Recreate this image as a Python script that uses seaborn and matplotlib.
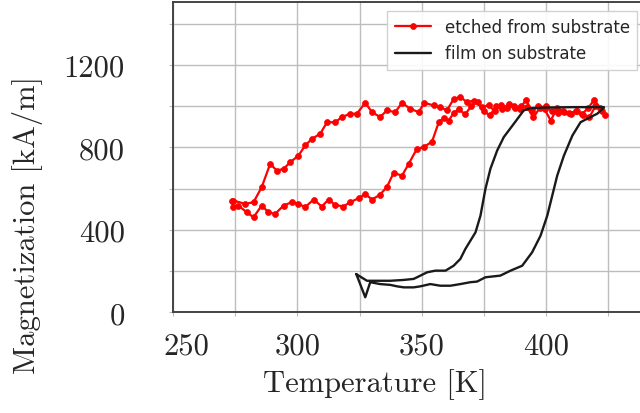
import numpy as np
import pandas as pd
import matplotlib
matplotlib.use('Agg')
import matplotlib.pyplot as plt
from matplotlib.transforms import ScaledTranslation
import seaborn as sns

# red loop: etched film, heating branch then cooling branch
red_temp_heat = [273.8, 274.2, 276.2, 279.6, 282.3, 285.6, 288.3, 291.0, 294.4, 297.7,
                 300.4, 303.1, 306.5, 309.8, 312.5, 315.2, 318.5, 321.2, 324.6, 327.3,
                 330.0, 333.1, 336.0, 338.7, 342.1, 344.8, 348.1, 350.8, 354.2, 356.9,
                 358.9, 360.9, 362.9, 365.0, 367.5, 370.0, 372.5, 375.0, 377.5, 380.0,
                 382.5, 385.0, 387.5, 390.0, 392.5, 395.0, 397.5, 400.0, 402.5, 405.0,
                 407.5, 410.0, 412.5, 415.0, 417.5, 420.0, 422.5, 424.0]
red_mag_heat = [540, 510, 518, 485, 461, 518, 485, 477, 518, 534,
                526, 510, 547, 513, 547, 521, 513, 534, 553, 574,
                547, 569, 607, 676, 663, 720, 793, 801, 828, 922,
                942, 930, 967, 985, 960, 1000, 1020, 975, 955, 1000,
                985, 1010, 990, 1000, 995, 945, 990, 1000, 975, 965,
                970, 960, 975, 955, 945, 1000, 975, 955]
red_temp_cool = [422.0, 419.5, 417.0, 414.5, 412.0, 409.5, 407.0, 404.5, 402.0, 399.5,
                 397.0, 394.5, 392.0, 389.5, 387.0, 384.5, 382.0, 379.5, 377.0, 374.5,
                 371.0, 368.3, 365.6, 362.9, 360.2, 357.5, 354.9, 351.1, 348.8, 345.4,
                 342.1, 339.4, 336.0, 333.3, 330.0, 327.3, 323.9, 321.2, 317.9, 315.2,
                 311.9, 309.2, 305.8, 303.1, 300.4, 297.1, 294.4, 291.7, 289.0, 285.6,
                 282.3, 278.9, 274.2]
red_mag_cool = [990, 1030, 990, 960, 975, 965, 975, 990, 930, 985,
                1000, 975, 1030, 985, 1000, 990, 1005, 975, 1005, 995,
                1027, 1019, 1044, 1035, 979, 995, 1003, 1016, 971, 987,
                1016, 971, 979, 947, 971, 1016, 963, 963, 947, 922,
                922, 866, 841, 809, 760, 728, 696, 687, 720, 607,
                534, 526, 542]

# black loop: film on substrate
black_temp_heat = [323.7, 327.3, 329.3, 333.3, 337.4, 340.1, 342.8, 346.8, 349.5, 353.5,
                   357.5, 361.6, 365.6, 369.6, 372.3, 375.7, 381.7, 385.8, 390.5, 394.5,
                   397.9, 400.6, 402.6, 404.6, 407.3, 410.7, 414.0, 418.0, 420.7, 423.4]
black_mag_heat = [185, 73, 146, 137, 133, 126, 121, 121, 126, 137,
                  129, 129, 137, 146, 149, 170, 178, 202, 226, 291,
                  372, 469, 566, 663, 760, 857, 922, 947, 963, 992]
black_temp_cool = [423.4, 411.4, 400.0, 393.8, 391.1, 387.1, 383.1, 380.4, 377.7, 375.7,
                   373.7, 371.7, 367.6, 365.6, 362.9, 359.6, 355.5, 352.2, 349.5, 346.8,
                   342.8, 337.4, 332.0, 328.0, 323.7]
black_mag_cool = [995, 995, 993, 990, 979, 914, 850, 784, 696, 599,
                  469, 388, 307, 259, 226, 202, 202, 194, 178, 162,
                  157, 153, 153, 153, 185]

x_ticks = [250, 275, 300, 325, 350, 375, 400, 425]
x_labels = ['250', '', '300', '', '350', '', '400', '']
y_ticks = [0, 200, 400, 600, 800, 1000, 1200, 1400]
y_labels = ['0', '', '400', '', '800', '', '1200', '']

red = pd.DataFrame({'T': red_temp_heat + red_temp_cool, 'M': red_mag_heat + red_mag_cool})
black = pd.DataFrame({'T': black_temp_heat + black_temp_cool, 'M': black_mag_heat + black_mag_cool})

sns.set_theme(style='whitegrid')
plt.rcParams['font.family'] = ['cmr10', 'DejaVu Serif']
plt.rcParams['axes.formatter.use_mathtext'] = True

fig = plt.figure(figsize=(6.4, 4.14), dpi=100)
ax = fig.add_axes([0.2708, 0.2432, 0.75, 0.7496])

sns.lineplot(data=red, x='T', y='M', sort=False, estimator=None, color='#ff0000',
             marker='o', markersize=4.3, markeredgecolor='#ff0000', markeredgewidth=0.5,
             linewidth=1.6, label='etched from substrate', ax=ax)
sns.lineplot(data=black, x='T', y='M', sort=False, estimator=None, color='#1a1a1a',
             linewidth=1.7, label='film on substrate', ax=ax)

ax.set_xlim(250, 443.3)
ax.set_ylim(0, 1505)
ax.set_xticks(x_ticks)
ax.set_xticklabels(x_labels)
ax.set_yticks(y_ticks)
ax.set_yticklabels(y_labels)
ax.tick_params(axis='both', labelsize=22, length=3, width=0.8, color='#bbbbbb', bottom=True, left=True)
ax.tick_params(axis='x', pad=11)
ax.tick_params(axis='y', pad=32)
ax.grid(True, color='#bdbdbd', linewidth=1.0)
ax.set_axisbelow(True)
for s in ax.spines.values():
    s.set_color('#444444')
    s.set_linewidth(1.4)

# the first x label sits a little right of its tick in the original
first = ax.get_xticklabels()[0]
first.set_transform(first.get_transform() + ScaledTranslation(0.13, 0, fig.dpi_scale_trans))

ax.set_xlabel('Temperature [K]', fontsize=22)
ax.set_ylabel('Magnetization [kA/m]', fontsize=22)
ax.xaxis.label.set_va('center')
ax.yaxis.label.set_va('center')
ax.xaxis.set_label_coords(0.42, -0.228)
ax.yaxis.set_label_coords(-0.303, 0.285)

leg = ax.legend(loc='upper right', bbox_to_anchor=(0.996, 0.972), bbox_transform=fig.transFigure,
                borderaxespad=0, prop={'family': 'DejaVu Sans', 'size': 12}, frameon=True,
                fancybox=False, handlelength=2.2, borderpad=0.45, labelspacing=0.5)
leg.get_frame().set_edgecolor('#cccccc')
leg.get_frame().set_alpha(0.9)

fig.savefig('out.png', dpi=100)
